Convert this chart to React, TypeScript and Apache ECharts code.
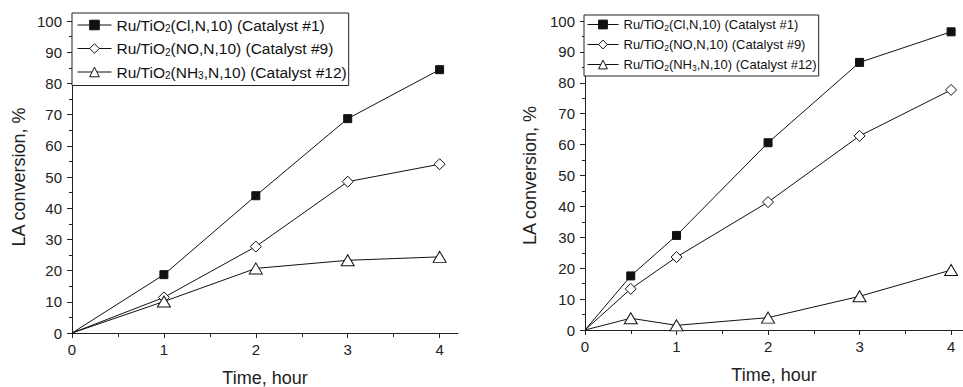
import React, { useEffect, useRef } from 'react';
import * as echarts from 'echarts';

const FONT = '"Liberation Sans", Arial, Helvetica, sans-serif';

// Series names and their legend labels (with subscripts)
const seriesNames = [
  'Ru/TiO2(Cl,N,10) (Catalyst #1)',
  'Ru/TiO2(NO,N,10) (Catalyst #9)',
  'Ru/TiO2(NH3,N,10) (Catalyst #12)',
];
const legendLabels = [
  '{a|Ru/TiO}{s|2}{a|(Cl,N,10) (Catalyst #1)}',
  '{a|Ru/TiO}{s|2}{a|(NO,N,10) (Catalyst #9)}',
  '{a|Ru/TiO}{s|2}{a|(NH}{s|3}{a|,N,10) (Catalyst #12)}',
];

// Left panel data
const leftTime = [0, 1, 2, 3, 4];
const leftCat1 = [0, 18.7, 44.0, 68.7, 84.4];
const leftCat9 = [0, 11.4, 27.7, 48.5, 54.1];
const leftCat12 = [0, 10.1, 20.7, 23.3, 24.4];

// Right panel data
const rightTime = [0, 0.5, 1, 2, 3, 4];
const rightCat1 = [0, 17.5, 30.6, 60.6, 86.6, 96.5];
const rightCat9 = [0, 13.3, 23.6, 41.4, 62.8, 77.7];
const rightCat12 = [0, 3.8, 1.5, 4.0, 10.9, 19.4];

// Tick positions
const xMajorTicks = [0, 1, 2, 3, 4];
const xMinorTicks = [0.5, 1.5, 2.5, 3.5];
const yMinorTicks = [5, 15, 25, 35, 45, 55, 65, 75, 85, 95];

const AXIS = '#222';

const symbols = [
  { symbol: 'rect', size: 8, fill: '#111' },
  { symbol: 'diamond', size: 11, fill: '#fff' },
  { symbol: 'triangle', size: [13, 11], fill: '#fff' },
];

function makeData(xs: number[], ys: number[]) {
  return xs.map((x, i) =>
    i === 0 ? { value: [x, ys[i]], symbol: 'none' } : { value: [x, ys[i]] }
  );
}

function makeSeries(idx: number, xs: number[], ys: number[], k: number) {
  const s = symbols[k];
  return {
    type: 'line',
    name: seriesNames[k],
    xAxisIndex: idx * 2,
    yAxisIndex: idx * 2,
    data: makeData(xs, ys),
    symbol: s.symbol,
    symbolSize: s.size,
    showAllSymbol: true,
    lineStyle: { color: '#111', width: 1 },
    itemStyle: { color: s.fill, borderColor: '#111', borderWidth: 1 },
    z: 3 + k,
  };
}

function xAxis(idx: number, max: number) {
  return {
    type: 'value',
    gridIndex: idx,
    position: 'bottom',
    min: 0,
    max,
    interval: 1,
    name: 'Time, hour',
    nameLocation: 'middle',
    nameGap: 36,
    nameTextStyle: { fontFamily: FONT, fontSize: 18, color: AXIS },
    axisLine: { show: true, onZero: false, lineStyle: { color: AXIS, width: 1 } },
    axisTick: { show: true, inside: false, length: 5, customValues: xMajorTicks, lineStyle: { color: AXIS, width: 1 } },
    axisLabel: {
      margin: 9,
      fontFamily: FONT,
      fontSize: 15,
      color: AXIS,
      formatter: (v: number) => (Number.isInteger(v) ? String(v) : ''),
    },
    splitLine: { show: false },
  };
}

function xMinorAxis(idx: number, max: number) {
  return {
    type: 'value',
    gridIndex: idx,
    position: 'bottom',
    offset: 0,
    min: 0,
    max,
    interval: 0.5,
    axisLine: { show: false, onZero: false },
    axisTick: { show: true, inside: false, length: 4, customValues: xMinorTicks, lineStyle: { color: AXIS, width: 1 } },
    axisLabel: { show: false },
    splitLine: { show: false },
  };
}

function yAxis(idx: number, gap: number) {
  return {
    type: 'value',
    gridIndex: idx,
    position: 'left',
    min: 0,
    max: 100,
    interval: 10,
    name: 'LA conversion, %',
    nameLocation: 'middle',
    nameGap: gap,
    nameRotate: 90,
    nameTextStyle: { fontFamily: FONT, fontSize: 18, color: AXIS },
    axisLine: { show: true, onZero: false, lineStyle: { color: AXIS, width: 1 } },
    axisTick: { show: true, inside: false, length: 5, lineStyle: { color: AXIS, width: 1 } },
    axisLabel: { margin: 10, fontFamily: FONT, fontSize: 15, color: AXIS },
    splitLine: { show: false },
  };
}

function yMinorAxis(idx: number) {
  return {
    type: 'value',
    gridIndex: idx,
    position: 'left',
    offset: 0,
    min: 0,
    max: 100,
    interval: 5,
    axisLine: { show: false, onZero: false },
    axisTick: { show: true, inside: false, length: 3, customValues: yMinorTicks, lineStyle: { color: AXIS, width: 1 } },
    axisLabel: { show: false },
    splitLine: { show: false },
  };
}

export default function App() {
  const ref = useRef<HTMLDivElement>(null);
  useEffect(() => {
    document.body.style.margin = '0';
    if (!ref.current) return;
    const chart = echarts.init(ref.current, undefined, { renderer: 'svg' });
    const formatter = (name: string) => legendLabels[seriesNames.indexOf(name)] || name;
    const legendBase = {
      data: seriesNames,
      orient: 'vertical',
      backgroundColor: '#fff',
      borderColor: AXIS,
      borderWidth: 1,
      borderRadius: 0,
      selectedMode: false,
      formatter,
      lineStyle: { width: 1, color: '#111' },
      itemStyle: { borderWidth: 1, borderColor: '#111' },
    };
    chart.setOption({
      animation: false,
      backgroundColor: '#fff',
      grid: [
        { left: 72, top: 21, width: 386, height: 312, containLabel: false, outerBoundsMode: 'none' },
        { left: 585, top: 21, width: 378, height: 309, containLabel: false, outerBoundsMode: 'none' },
      ],
      xAxis: [xAxis(0, 4.2), xMinorAxis(0, 4.2), xAxis(1, 4.13), xMinorAxis(1, 4.13)],
      yAxis: [yAxis(0, 44), yMinorAxis(0), yAxis(1, 46), yMinorAxis(1)],
      legend: [
        {
          ...legendBase,
          left: 72,
          top: 13,
          padding: [4, 2, 5, 5],
          itemGap: 7,
          itemWidth: 34,
          itemHeight: 12,
          textStyle: {
            color: '#111',
            rich: {
              a: { fontFamily: FONT, fontSize: 15.5, lineHeight: 17, color: '#111' },
              s: { fontFamily: FONT, fontSize: 10, lineHeight: 10, verticalAlign: 'bottom', color: '#111' },
            },
          },
        },
        {
          ...legendBase,
          left: 584,
          top: 15,
          padding: [3, 2, 4, 3],
          itemGap: 6,
          itemWidth: 31,
          itemHeight: 11,
          textStyle: {
            color: '#111',
            rich: {
              a: { fontFamily: FONT, fontSize: 13, lineHeight: 15, color: '#111' },
              s: { fontFamily: FONT, fontSize: 8.5, lineHeight: 8, verticalAlign: 'bottom', color: '#111' },
            },
          },
        },
      ],
      series: [
        makeSeries(0, leftTime, leftCat1, 0),
        makeSeries(0, leftTime, leftCat9, 1),
        makeSeries(0, leftTime, leftCat12, 2),
        makeSeries(1, rightTime, rightCat1, 0),
        makeSeries(1, rightTime, rightCat9, 1),
        makeSeries(1, rightTime, rightCat12, 2),
      ],
    });
    return () => chart.dispose();
  }, []);
  return <div ref={ref} style={{ width: 963, height: 387 }} />;
}
